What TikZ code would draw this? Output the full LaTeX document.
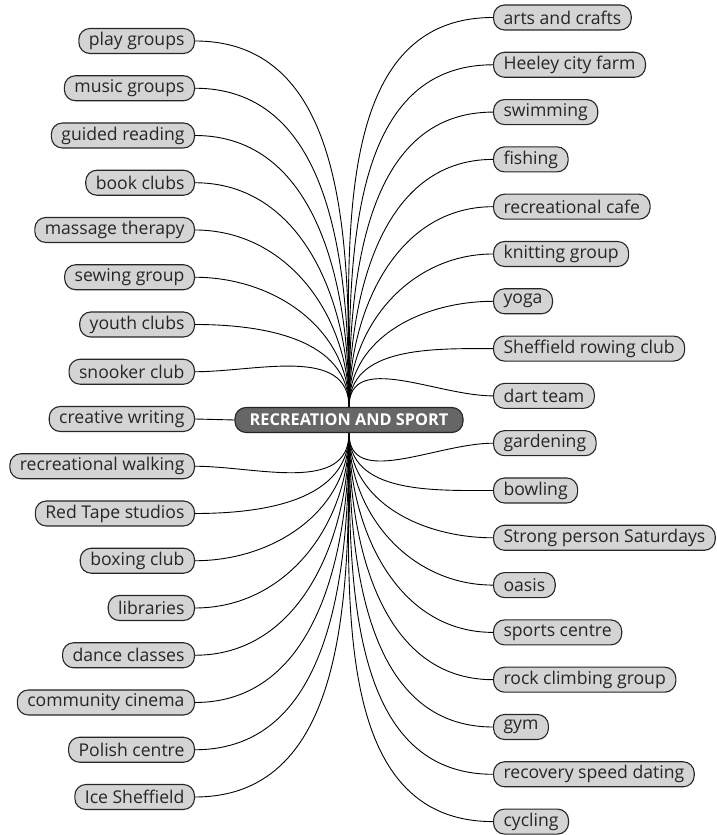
\documentclass[tikz,border=0pt]{standalone}
\usepackage{fontspec}
\setmainfont{Open Sans}
\usetikzlibrary{backgrounds}
\newcommand{\trail}{\hspace{6pt}}
\begin{document}
\begin{tikzpicture}[x=1pt,y=1pt,
  leaf/.style={draw=black!85, fill=black!17, line width=1.1pt,
    rounded corners=11pt, minimum height=25pt, inner xsep=10pt, inner ysep=0pt,
    font=\fontsize{17.6}{18}\selectfont, text=black!85},
  hub/.style={draw=black!85, fill=black!60, line width=1.1pt,
    rounded corners=11pt, minimum height=25pt, minimum width=228pt,
    inner ysep=0pt, font=\bfseries\fontsize{16.3}{17}\selectfont, text=white},
  link/.style={line width=0.9pt, black}]
\useasboundingbox (0,0) rectangle (717,835);

\node[hub] (hub) at (349,415) {RECREATION AND SPORT};

% left column, right-aligned at x = 195
\foreach \t [count=\i from 0] in {play groups, music groups, guided reading,
    book clubs, massage therapy, sewing group, youth clubs, snooker club,
    creative writing, recreational walking, Red Tape studios, boxing club,
    libraries, dance classes, community cinema, Polish centre, Ice Sheffield}
  \node[leaf, anchor=east] (L\i) at (195,{835-41-47.25*\i}) {\t};

% right column, left-aligned at x = 493
\foreach \t [count=\i from 0] in {arts and crafts\trail, Heeley city farm, swimming,
    fishing, recreational cafe, knitting group\trail, yoga, Sheffield rowing club,
    dart team, gardening\trail, bowling, Strong person Saturdays\trail, oasis,
    sports centre, rock climbing group\hspace{3pt}, gym,
    recovery speed dating\trail, cycling}
  \node[leaf, anchor=west] (R\i) at (493,{835-17.5-47.3*\i}) {\t};

\begin{scope}[on background layer]
  \foreach \i in {0,...,7}
    \draw[link] (L\i.east) to[out=0,in=90] (hub.north);
  \draw[link] (L8.east) -- (hub.west);
  \foreach \i in {9,...,16}
    \draw[link] (hub.south) to[out=-90,in=0] (L\i.east);
  \foreach \i in {0,...,8}
    \draw[link] (hub.north) to[out=90,in=180] (R\i.west);
  \foreach \i in {9,...,17}
    \draw[link] (hub.south) to[out=-90,in=180] (R\i.west);
\end{scope}
\end{tikzpicture}
\end{document}
